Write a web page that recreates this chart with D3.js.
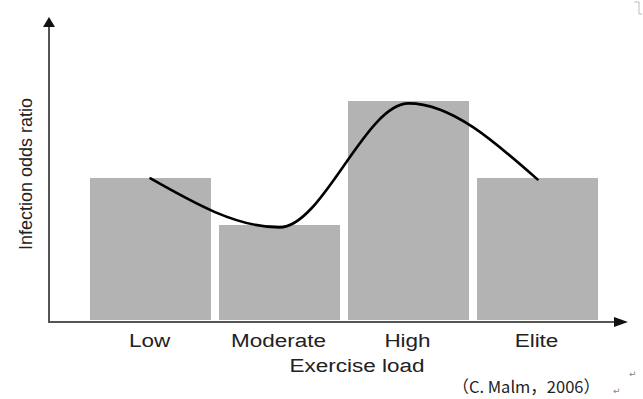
<!DOCTYPE html>
<html>
<head>
<meta charset="utf-8">
<script src="https://cdn.jsdelivr.net/npm/d3@7"></script>
<style>
  body { margin: 0; background: #fff; }
  svg { display: block; }
  .lbl { font-family: "Liberation Sans", Arial, sans-serif; fill: #222; }
</style>
</head>
<body>
<div id="chart"></div>
<script>
// exercise load categories and infection odds ratio (relative units)
const categories = ['Low', 'Moderate', 'High', 'Elite'];
const barValues = [1.495, 1.0, 2.305, 1.495];
const curveValues = [1.49, 0.975, 2.28, 1.48];
const xTitle = 'Exercise load';
const yTitle = 'Infection odds ratio';
const citation = '（C. Malm，2006）';

const width = 643, height = 399;
const origin = {x: 49, y: 322};

const svg = d3.select('#chart').append('svg')
  .attr('width', width).attr('height', height);

const x = d3.scaleBand().domain(categories).range([86, 602])
  .paddingInner(0.062).paddingOuter(0.031);
const y = d3.scaleLinear().domain([0, 3.2]).range([320, 16]);

// bars
svg.append('g').selectAll('rect').data(categories).enter().append('rect')
  .attr('x', d => x(d))
  .attr('y', (d, i) => y(barValues[i]))
  .attr('width', x.bandwidth())
  .attr('height', (d, i) => y(0) - y(barValues[i]))
  .style('fill', '#b3b3b3');

// smooth trend line through the bar centres
const line = d3.line()
  .x((d, i) => x(categories[i]) + x.bandwidth() / 2)
  .y(d => y(d))
  .curve(d3.curveMonotoneX);
svg.append('path').datum(curveValues)
  .attr('d', line)
  .style('fill', 'none').style('stroke', '#000').style('stroke-width', 2.6)
  .style('stroke-linecap', 'round');

// axes with arrow heads
const axisColor = '#555';
svg.append('line').attr('x1', origin.x).attr('y1', origin.y).attr('x2', origin.x).attr('y2', 26)
  .style('stroke', axisColor).style('stroke-width', 2);
svg.append('path').attr('d', `M${origin.x - 6},27 L${origin.x},17 L${origin.x + 6},27 Z`)
  .style('fill', '#111');
svg.append('line').attr('x1', origin.x - 1).attr('y1', origin.y).attr('x2', 616).attr('y2', origin.y)
  .style('stroke', axisColor).style('stroke-width', 2);
svg.append('path').attr('d', `M614,${origin.y - 5} L628,${origin.y} L614,${origin.y + 5} Z`)
  .style('fill', '#111');

// category labels (stretched horizontally like the source)
svg.append('g').selectAll('text').data(categories).enter().append('text')
  .attr('class', 'lbl')
  .attr('transform', d => `translate(${x(d) + x.bandwidth() / 2 - 1},347) scale(1.25,1)`)
  .attr('text-anchor', 'middle')
  .style('font-size', '18px')
  .text(d => d);

svg.append('text').attr('class', 'lbl')
  .attr('transform', 'translate(357,372) scale(1.25,1)')
  .attr('text-anchor', 'middle')
  .style('font-size', '18px')
  .text(xTitle);

svg.append('text').attr('class', 'lbl')
  .attr('transform', 'translate(32,174) rotate(-90)')
  .attr('text-anchor', 'middle')
  .style('font-size', '18px')
  .text(yTitle);

// citation and word-processor marks
svg.append('text')
  .attr('x', 600).attr('y', 393)
  .attr('text-anchor', 'end')
  .style('font-family', '"Noto Sans CJK SC", sans-serif')
  .style('font-size', '16.5px').style('fill', '#222')
  .text(citation);
svg.append('text').attr('x', 613).attr('y', 394)
  .style('font-family', '"DejaVu Sans", sans-serif').style('font-size', '9px').style('fill', '#888')
  .text('↵');
svg.append('text').attr('x', 629).attr('y', 377)
  .style('font-family', '"DejaVu Sans", sans-serif').style('font-size', '9px').style('fill', '#888')
  .text('↵');
svg.append('path').attr('d', 'M634,2 L639,2 L639,14 L642,14')
  .style('fill', 'none').style('stroke', '#bbb').style('stroke-width', 1);
</script>
</body>
</html>
